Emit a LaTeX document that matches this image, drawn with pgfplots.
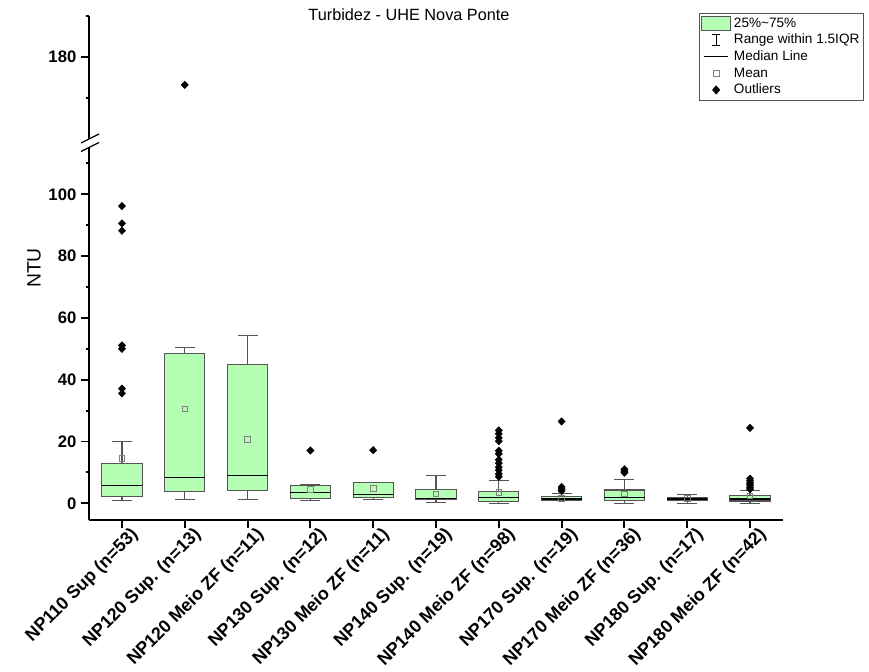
\documentclass[border=0pt]{standalone}
\usepackage{fontspec}
\setmainfont{Liberation Sans}
\usepackage{pgfplots}
\pgfplotsset{compat=1.18}
\usepgfplotslibrary{statistics}
\definecolor{boxfill}{RGB}{180,255,180}
\definecolor{boxedge}{RGB}{85,85,85}
\begin{document}
\begin{tikzpicture}
\path[use as bounding box] (0,0) rectangle (651.75pt,504pt);
\pgfplotsset{
  bx/.style={
    scale only axis, width=520.5pt,
    xmin=0.475, xmax=11.525,
    axis y line*=left,
    axis line style={line width=1.4pt,-},
    tick align=outside,
    major tick length=6pt, minor tick length=2.6pt,
    every tick/.style={line width=1.4pt, black},
    /pgf/number format/assume math mode=true,
    yticklabel style={font=\bfseries\fontsize{12.5}{14}\selectfont},
    boxplot/draw direction=y,
    boxplot/every box/.style={draw=boxedge, fill=boxfill, line width=0.8pt},
    boxplot/every whisker/.style={draw=boxedge, line width=0.8pt},
    boxplot/every median/.style={draw=black, line width=0.8pt},
    boxplot/box extend=0.64,
    boxplot/whisker extend=0.32,
  },
  ol/.style={draw=boxedge, mark=diamond*, mark size=2.8pt, mark options={draw=black, fill=black, line width=0.3pt, xscale=1.3}},
}
% lower axis
\begin{axis}[bx,
  at={(89*0.75pt,152*0.75pt)}, anchor=south west,
  height=279.75pt,
  ymin=-5.4, ymax=115.3,
  axis x line*=bottom,
  ytick={0,20,...,100}, minor ytick={10,30,...,110},
  xtick={1,...,11},
  xticklabels={NP110 Sup (n=53), NP120 Sup. (n=13), NP120 Meio ZF (n=11), NP130 Sup. (n=12), NP130 Meio ZF (n=11), NP140 Sup. (n=19), NP140 Meio ZF (n=98), NP170 Sup. (n=19), NP170 Meio ZF (n=36), NP180 Sup. (n=17), NP180 Meio ZF (n=42)},
  xticklabel style={rotate=45, anchor=north east, inner sep=1pt, xshift=6pt, yshift=-2pt, font=\bfseries\fontsize{13.4}{15}\selectfont},
]
\addplot[ol, boxplot prepared={draw direction=y, draw position=1, lower whisker=0.85, lower quartile=2.35, median=5.9, upper quartile=12.9, upper whisker=19.9}]
  table[row sep=\\, y index=0] {y\\ 96.2\\ 90.6\\ 88.2\\ 51.1\\ 50.0\\ 37.1\\ 35.6\\};
\addplot[ol, boxplot prepared={draw direction=y, draw position=2, lower whisker=1.3, lower quartile=3.7, median=8.4, upper quartile=48.6, upper whisker=50.5}]
  coordinates {};
\addplot[ol, boxplot prepared={draw direction=y, draw position=3, lower whisker=1.3, lower quartile=4.1, median=9.1, upper quartile=44.9, upper whisker=54.4}]
  coordinates {};
\addplot[ol, boxplot prepared={draw direction=y, draw position=4, lower whisker=1.0, lower quartile=1.7, median=3.4, upper quartile=5.7, upper whisker=6.2}]
  table[row sep=\\, y index=0] {y\\ 17.1\\};
\addplot[ol, boxplot prepared={draw direction=y, draw position=5, lower whisker=1.1, lower quartile=1.9, median=2.9, upper quartile=6.6, upper whisker=6.6}]
  table[row sep=\\, y index=0] {y\\ 17.2\\};
\addplot[ol, boxplot prepared={draw direction=y, draw position=6, lower whisker=0.2, lower quartile=1.1, median=1.6, upper quartile=4.6, upper whisker=8.9}]
  coordinates {};
\addplot[ol, boxplot prepared={draw direction=y, draw position=7, lower whisker=0.0, lower quartile=0.7, median=1.9, upper quartile=3.7, upper whisker=7.5}]
  table[row sep=\\, y index=0] {y\\ 23.6\\ 22.5\\ 21.2\\ 20.1\\ 17.0\\ 16.0\\ 14.1\\ 13.0\\ 11.7\\ 10.7\\ 9.5\\ 8.6\\};
\addplot[ol, boxplot prepared={draw direction=y, draw position=8, lower whisker=0.8, lower quartile=0.9, median=1.4, upper quartile=2.1, upper whisker=3.2}]
  table[row sep=\\, y index=0] {y\\ 26.5\\ 5.3\\ 4.6\\ 4.0\\};
\addplot[ol, boxplot prepared={draw direction=y, draw position=9, lower whisker=0.0, lower quartile=0.85, median=1.9, upper quartile=4.3, upper whisker=7.8}]
  table[row sep=\\, y index=0] {y\\ 11.0\\ 10.4\\ 9.9\\};
\addplot[ol, boxplot prepared={draw direction=y, draw position=10, lower whisker=0.0, lower quartile=1.0, median=1.4, upper quartile=1.9, upper whisker=2.9}]
  coordinates {};
\addplot[ol, boxplot prepared={draw direction=y, draw position=11, lower whisker=0.0, lower quartile=0.75, median=1.4, upper quartile=2.5, upper whisker=4.0}]
  table[row sep=\\, y index=0] {y\\ 24.4\\ 8.0\\ 7.3\\ 6.6\\ 5.9\\ 5.2\\ 4.6\\};
% means
\addplot[only marks, mark=square, mark size=2.1pt, mark options={draw=gray, line width=0.6pt}]
  coordinates {(1,14.5) (2,30.6) (3,20.7) (4,4.5) (5,4.8) (6,3.0) (7,3.5) (8,1.6) (9,3.0) (10,1.5) (11,2.4)};
\end{axis}
% upper axis
\begin{axis}[bx,
  at={(89*0.75pt,533*0.75pt)}, anchor=south west,
  height=92.25pt,
  ymin=160, ymax=190,
  axis x line=none,
  ytick={180}, minor ytick={170,190},
  xtick=\empty,
  legend style={at={(0.879,1.024)}, anchor=north west, draw=boxedge, line width=0.6pt,
    font=\fontsize{10.2}{12}\selectfont, inner sep=1.2pt, row sep=-0.3pt,
    cells={anchor=west}},
  legend cell align=left,
]
\addplot[forget plot, only marks, mark=diamond*, mark size=2.8pt, mark options={draw=black, fill=black, line width=0.3pt, xscale=1.3}]
  coordinates {(2,173.2)};
\addlegendimage{legend image code/.code={\draw[draw=boxedge, fill=boxfill, line width=0.7pt] (0pt,-5.5pt) rectangle (22pt,5.5pt);}}
\addlegendentry{25\%\textasciitilde 75\%}
\addlegendimage{legend image code/.code={\draw[line width=0.6pt, black] (11pt,-4pt)--(11pt,4pt) (8pt,4pt)--(14pt,4pt) (8pt,-4pt)--(14pt,-4pt);}}
\addlegendentry{Range within 1.5IQR}
\addlegendimage{legend image code/.code={\draw[line width=0.6pt, black] (2pt,0pt)--(20pt,0pt);}}
\addlegendentry{Median Line}
\addlegendimage{legend image code/.code={\draw[gray, line width=0.5pt] (8.8pt,-2.3pt) rectangle (13.2pt,2.3pt);}}
\addlegendentry{Mean}
\addlegendimage{legend image code/.code={\fill[black] (11pt,3pt) -- (13.6pt,0pt) -- (11pt,-3pt) -- (8.4pt,0pt) -- cycle;}}
\addlegendentry{Outliers}
\end{axis}
% axis break marks
\draw[line width=1pt] (81*0.75pt,{(672-143)*0.75pt}) -- (99*0.75pt,{(672-134)*0.75pt});
\draw[line width=1pt] (81*0.75pt,{(672-151.5)*0.75pt}) -- (99*0.75pt,{(672-142.5)*0.75pt});
% title and y label
\node[font=\fontsize{12.2}{14}\selectfont] at (409*0.75pt,{(672-15)*0.75pt}) {Turbidez - UHE Nova Ponte};
\node[rotate=90, font=\fontsize{14.5}{16}\selectfont] at (34*0.75pt,{(672-268)*0.75pt}) {NTU};
\end{tikzpicture}
\end{document}
